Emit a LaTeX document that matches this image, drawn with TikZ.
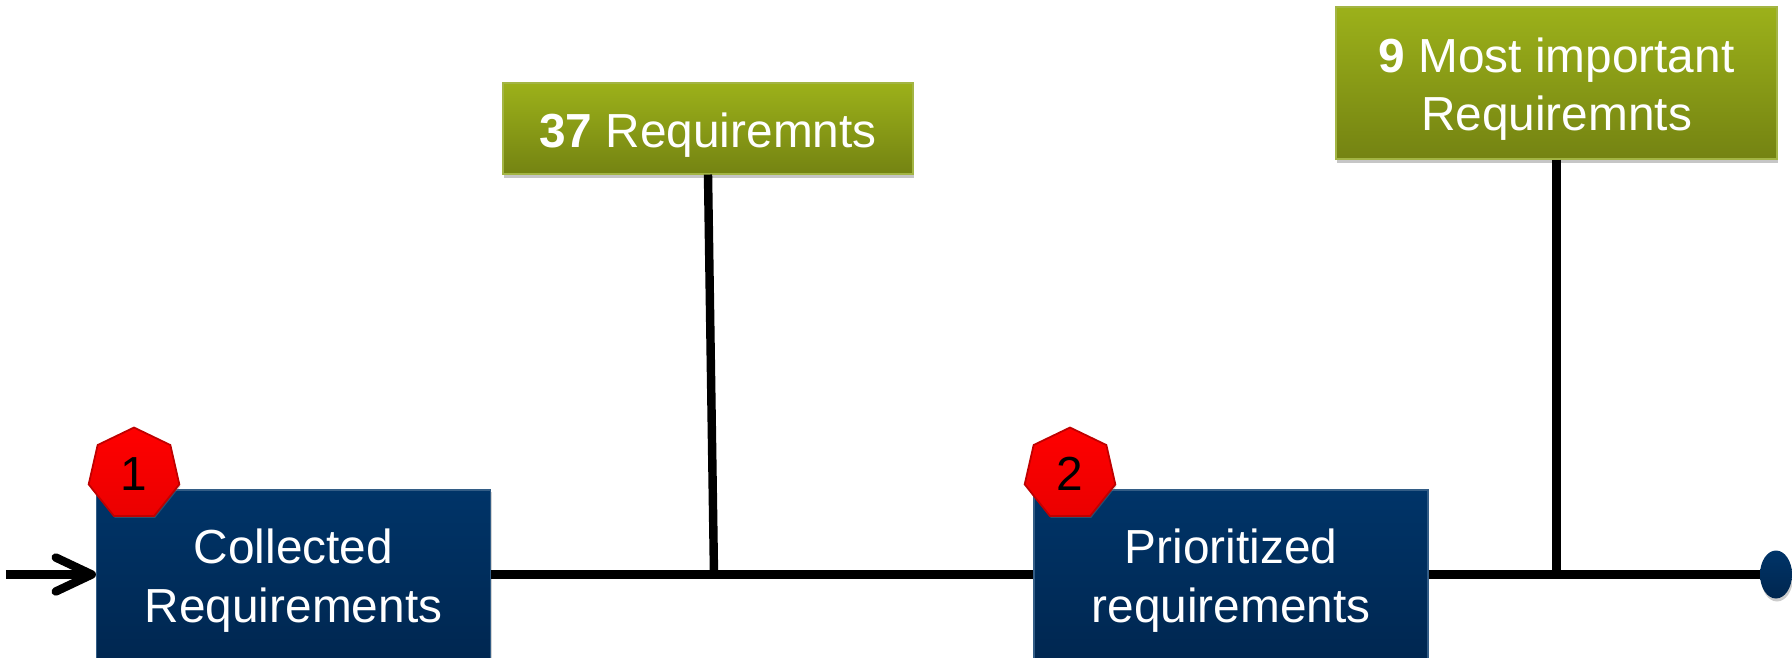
\documentclass[tikz,border=0pt]{standalone}
\usepackage{fontspec}
\setmainfont{Liberation Sans}
\usetikzlibrary{shapes.geometric,shadows,arrows.meta}
\definecolor{navytop}{HTML}{003468}
\definecolor{navybot}{HTML}{00264F}
\definecolor{olivetop}{HTML}{9CB11A}
\definecolor{olivebot}{HTML}{748312}
\definecolor{oliveline}{HTML}{A3B544}
\newcommand{\lowtext}{\rule{0pt}{0.47cm}}
\tikzset{
	stagebox/.style={rectangle, draw=navytop!80!white, line width=0.3pt, top color=navytop, bottom color=navybot, minimum width=3.94cm, minimum height=1.81cm, inner sep=0pt, align=center, text=white, font=\fontsize{13.6}{16.6}\selectfont, drop shadow={shadow xshift=0.01cm, shadow yshift=-0.02cm, opacity=0.35}},
	countbox/.style={rectangle, draw=oliveline, line width=0.3pt, top color=olivetop, bottom color=olivebot, inner sep=0pt, align=center, text=white, font=\fontsize{13.6}{16.6}\selectfont, drop shadow={shadow xshift=0.01cm, shadow yshift=-0.04cm, opacity=0.45}},
	badge/.style={regular polygon, regular polygon sides=7, minimum size=0.93cm, inner sep=0pt, draw=red!75!black, line width=0.5pt, top color=red, bottom color=red!92!black, text=black, font=\fontsize{13.6}{16.6}\selectfont, drop shadow={shadow xshift=0.01cm, shadow yshift=-0.02cm, opacity=0.35}},
	conn/.style={line width=2.4pt, black, preaction={draw=gray, opacity=0.45, transform canvas={yshift=-0.035cm}}},
}
\begin{document}
\begin{tikzpicture}
	
	\clip (0,0) rectangle (17.92,6.57);
	
	\node[stagebox] (collected) at (2.935,0.765) {Collected\\Requirements};
	\node[stagebox] (prioritized) at (12.31,0.765) {Prioritized\\requirements};
	\node[countbox, minimum width=4.10cm, minimum height=0.91cm] (reqall) at (7.08,5.285) {\lowtext\textbf{37} Requiremnts};
	\node[countbox, minimum width=4.41cm, minimum height=1.52cm] (reqtop) at (15.565,5.74) {\lowtext\textbf{9} Most important\\Requiremnts};
	\node[ellipse, minimum width=0.32cm, minimum height=0.48cm, inner sep=0pt, outer sep=0pt, top color=navytop, bottom color=navybot, drop shadow={shadow xshift=0.01cm, shadow yshift=-0.03cm, opacity=0.4}] (finish) at (17.76,0.825) {};
	
	\coordinate (start) at (0.06,0.825);
	\coordinate (joinall) at (7.14,0.825);
	\coordinate (jointop) at (15.565,0.825);
	
	\draw[conn, -{Straight Barb[length=3.6mm, width=3.4mm, line width=2.4pt, round]}] (start) -- (collected.west |- start);
	\draw[conn] (collected.east |- start) -- (prioritized.west |- start);
	\draw[conn] (prioritized.east |- start) -- (finish.west);
	\draw[line width=2.4pt] (reqall.south) -- (joinall);
	\draw[line width=2.4pt] (reqtop.south) -- (jointop);
	
	\node[badge] (one) at (1.34,1.83) {1};
	\node[badge] (two) at (10.70,1.83) {2};
	
\end{tikzpicture}
\end{document}
